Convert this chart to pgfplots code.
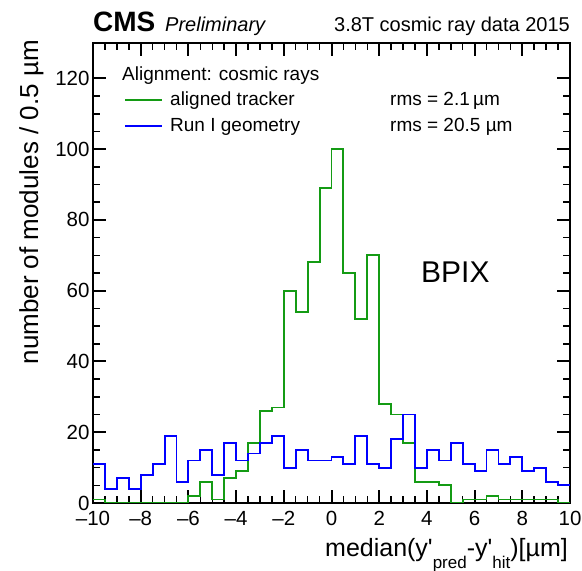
\documentclass[border=0pt]{standalone}
\usepackage{fontspec}
\setmainfont{Liberation Sans}
\usepackage{pgfplots}
\usepackage{pgfplotstable}
\pgfplotsset{compat=1.18}
\definecolor{hgreen}{RGB}{20,155,20}
\definecolor{hblue}{RGB}{0,0,255}

\pgfplotstableread{
x green blue
-10.0 1 11
-9.5 0 4
-9.0 0 7
-8.5 0 4
-8.0 0 8
-7.5 0 11
-7.0 0 19
-6.5 0 6
-6.0 2 12
-5.5 6 15
-5.0 1 8
-4.5 7 17
-4.0 9 12
-3.5 17 14
-3.0 26 17
-2.5 27 19
-2.0 60 10
-1.5 54 15
-1.0 68 12
-0.5 89 12
0.0 100 13
0.5 65 11
1.0 52 19
1.5 70 11
2.0 28 10
2.5 25 18
3.0 17 25
3.5 6 10
4.0 6 15
4.5 5 12
5.0 0 17
5.5 1 11
6.0 1 9
6.5 2 15
7.0 1 11
7.5 1 13
8.0 1 9
8.5 1 10
9.0 1 6
9.5 0 5
10.0 0 5
}\hist

\begin{document}
\begin{tikzpicture}
\useasboundingbox (0,0) rectangle (582bp,571bp);
\begin{axis}[
  at={(93bp,68bp)}, anchor=south west, scale only axis,
  width=477bp, height=460bp,
  xmin=-10, xmax=10, ymin=0, ymax=130,
  xtick={-10,-8,...,10},
  xticklabels={–10,–8,–6,–4,–2,0,2,4,6,8,10},
  ytick={0,20,...,120},
  minor x tick num=3, minor y tick num=3,
  tick align=inside, xtick pos=both, ytick pos=both,
  xticklabel pos=lower, yticklabel pos=left,
  major tick length=13bp, minor tick length=7bp,
  every major tick/.append style={black, line width=2bp},
  every minor tick/.append style={black, line width=1.5bp},
  axis line style={line width=2.5bp},
  ticklabel style={font=\fontsize{20.5bp}{24bp}\selectfont},
  xticklabel style={yshift=-5bp},
  /pgf/number format/assume math mode=true,
]
\addplot[const plot mark left, hgreen, line width=1.9bp, no marks] table[x=x,y=green]{\hist};
\addplot[const plot mark left, hblue, line width=1.9bp, no marks] table[x=x,y=blue]{\hist};
\end{axis}
% titles
\node[anchor=base west, inner sep=0, font=\fontsize{28bp}{32bp}\selectfont\bfseries] at (93bp,539.3bp) {CMS};
\node[anchor=base west, inner sep=0, font=\fontsize{20bp}{24bp}\selectfont\itshape] at (165bp,539.3bp) {Preliminary};
\node[anchor=base east, inner sep=0, font=\fontsize{20bp}{24bp}\selectfont] at (570bp,539.3bp) {3.8T cosmic ray data 2015};
% legend
\node[anchor=base west, inner sep=0, font=\fontsize{19bp}{22bp}\selectfont] at (122bp,490.3bp) {Alignment: cosmic rays};
\draw[hgreen, line width=1.3bp] (125bp,471bp) -- (162bp,471bp);
\node[anchor=base west, inner sep=0, font=\fontsize{19bp}{22bp}\selectfont] at (170bp,465.3bp) {aligned tracker};
\draw[hblue, line width=1.3bp] (125bp,445bp) -- (162bp,445bp);
\node[anchor=base west, inner sep=0, font=\fontsize{19bp}{22bp}\selectfont] at (170bp,439.3bp) {Run I geometry};
\node[anchor=base west, inner sep=0, font=\fontsize{19bp}{22bp}\selectfont] at (390bp,465.3bp) {rms = 2.1\,µm};
\node[anchor=base west, inner sep=0, font=\fontsize{19bp}{22bp}\selectfont] at (390bp,439.3bp) {rms = 20.5 µm};
% BPIX
\node[anchor=base west, inner sep=0, font=\fontsize{30bp}{34bp}\selectfont] at (421bp,288.3bp) {BPIX};
% axis titles
\node[anchor=base east, inner sep=0, rotate=90, font=\fontsize{26bp}{30bp}\selectfont] at (38bp,531bp) {number of modules / 0.5 µm};
\node[anchor=base east, inner sep=0, font=\fontsize{25bp}{30bp}\selectfont] at (568bp,14.3bp) {median(y\textquotesingle\raisebox{-12bp}{\fontsize{17bp}{20bp}\selectfont pred}-y\textquotesingle\raisebox{-12bp}{\fontsize{17bp}{20bp}\selectfont hit})[µm]};
\end{tikzpicture}
\end{document}
